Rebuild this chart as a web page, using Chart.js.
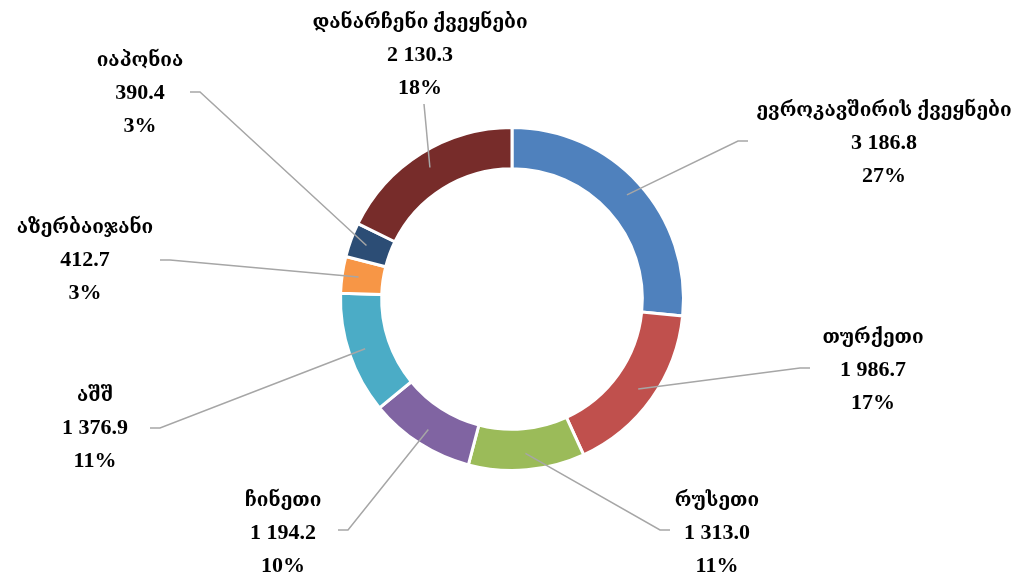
<!DOCTYPE html>
<html>
<head>
<meta charset="utf-8">
<script src="https://cdn.jsdelivr.net/npm/chart.js@4/dist/chart.umd.min.js"></script>
<style>
  html, body { margin: 0; padding: 0; background: #fff; }
  #wrap { width: 1016px; height: 576px; }
</style>
</head>
<body>
<div id="wrap"><canvas id="chart" width="1016" height="576"></canvas></div>
<script>
// data
const countries = ['ევროკავშირის ქვეყნები', 'თურქეთი', 'რუსეთი', 'ჩინეთი', 'აშშ', 'აზერბაიჯანი', 'იაპონია', 'დანარჩენი ქვეყნები'];
const values = [3186.8, 1986.7, 1313.0, 1194.2, 1376.9, 412.7, 390.4, 2130.3];
const colors = ['#4F81BD', '#C0504D', '#9BBB59', '#8064A2', '#4BACC6', '#F79646', '#2C4D75', '#772C2A'];

// where each label block sits, and where its leader line bends
const labelX = [884, 873, 717, 283, 95, 85, 140, 420];
const labelY = [111, 338, 501, 501, 396, 228, 61, 23];
const elbows = [[738, 141], [800, 368], [660, 530], [348, 530], [160, 428], [170, 260], [200, 92], [424, 104]];
const ticks = [10, 10, 10, -10, -10, -10, -10, 0];

const NAME_FONT = "bold 19px 'Liberation Serif', 'DejaVu Serif', serif";
const NUM_FONT = "bold 22px 'Liberation Serif', 'DejaVu Serif', serif";

function fmt (v) {
    let parts = v.toFixed(1).split('.')
    parts[0] = parts[0].replace(/\B(?=(\d{3})+(?!\d))/g, ' ')
    return parts.join('.')
}

const labelPlugin = {
    id: 'labels',
    afterDatasetsDraw (chart) {
        const ctx = chart.ctx
        const meta = chart.getDatasetMeta(0)
        const total = values.reduce((a, b) => a + b, 0)
        ctx.save()
        meta.data.forEach((arc, i) => {
            const p = arc.getProps(['x', 'y', 'startAngle', 'endAngle', 'innerRadius', 'outerRadius'], true)
            const mid = (p.startAngle + p.endAngle) / 2
            const r = p.innerRadius + 0.6 * (p.outerRadius - p.innerRadius)
            const sx = p.x + Math.cos(mid) * r
            const sy = p.y + Math.sin(mid) * r
            // leader line
            ctx.strokeStyle = '#A6A6A6'
            ctx.lineWidth = 1.5
            ctx.beginPath()
            ctx.moveTo(sx, sy)
            ctx.lineTo(elbows[i][0], elbows[i][1])
            if (ticks[i] !== 0) ctx.lineTo(elbows[i][0] + ticks[i], elbows[i][1])
            ctx.stroke()
            // text block
            ctx.fillStyle = '#000'
            ctx.textAlign = 'center'
            ctx.textBaseline = 'middle'
            ctx.font = NAME_FONT
            ctx.fillText(countries[i], labelX[i], labelY[i])
            ctx.font = NUM_FONT
            ctx.fillText(fmt(values[i]), labelX[i], labelY[i] + 32.5)
            ctx.fillText(Math.round(values[i] / total * 100) + '%', labelX[i], labelY[i] + 65)
        })
        ctx.restore()
    }
}

const ctx = document.getElementById('chart').getContext('2d')
const myChart = new Chart(ctx, {
    type: 'doughnut',
    data: {
        labels: countries,
        datasets: [{
            data: values,
            backgroundColor: colors,
            borderColor: '#ffffff',
            borderWidth: 3
        }]
    },
    options: {
        responsive: false,
        animation: false,
        cutout: '76%',
        layout: { padding: { top: 126, bottom: 104, left: 8, right: 0 } },
        plugins: {
            legend: { display: false },
            tooltip: { enabled: false }
        }
    },
    plugins: [labelPlugin]
});
</script>
</body>
</html>
